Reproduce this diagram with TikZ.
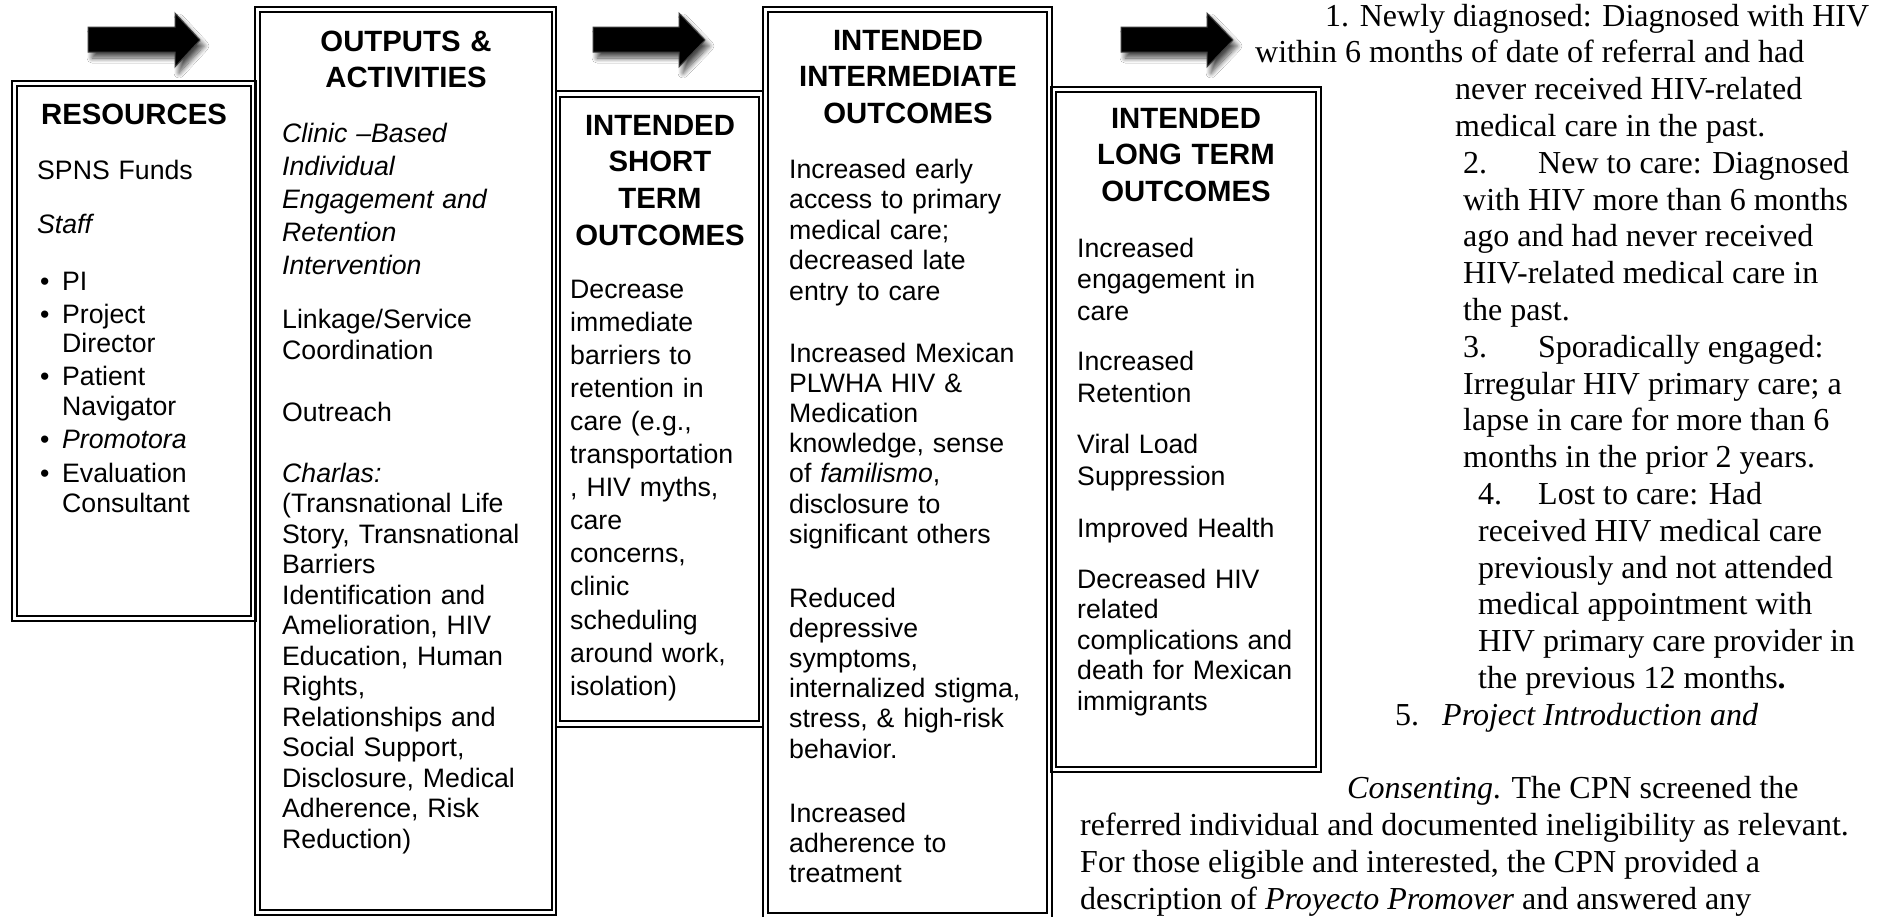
\documentclass[tikz,border=0pt]{standalone}
\usepackage{fontspec}
\setmainfont{Liberation Sans}
\newfontfamily\tnr{Liberation Serif}
\usetikzlibrary{shadows.blur}
\tikzset{
  bline/.style={line width=2pt, draw=black},
  arrowshape/.style={fill=black, draw=black!75, line width=1pt, blur shadow={shadow xshift=4pt, shadow yshift=-6pt, shadow blur radius=5pt, shadow blur steps=10, shadow opacity=70}},
  hd/.style={inner sep=0pt, anchor=base, align=center, font=\fontsize{29.33}{36.7}\selectfont\bfseries},
  bd/.style={inner sep=0pt, anchor=base west, align=left, text width=262pt, font=\fontsize{26.67}{#1}\selectfont},
  bd/.default=30.5,
  tr/.style={inner sep=0pt, anchor=base west, font=\tnr\fontsize{32}{36.8}\selectfont},
}
\begin{document}
\begin{tikzpicture}[x=1pt,y=-1pt]
\useasboundingbox[fill=white] (0,0) rectangle (1880,916);

% ---- double-bordered boxes ----
% Resources
\draw[bline] (12,81) rectangle (256,621);
\draw[bline] (17,86) rectangle (251,616);
% Outputs & activities
\draw[bline] (255,7) rectangle (556,915);
\draw[bline] (260,12) rectangle (552,910);
% Short term
\draw[bline] (556,91) rectangle (763,727);
\draw[bline] (560,97) rectangle (759,721);
% Intermediate
\draw[bline] (763,7) rectangle (1052,919);
\draw[bline] (768,12) rectangle (1047,913);
% Long term
\draw[bline] (1051,87) rectangle (1321,772);
\draw[bline] (1056,92) rectangle (1316,767);

% ---- block arrows ----
\path[arrowshape] (88,27) -- (175,27) -- (175,13) -- (200,40) -- (175,67) -- (175,52) -- (88,52) -- cycle;
\path[arrowshape] (593,27) -- (679,27) -- (679,13) -- (705,40) -- (679,67) -- (679,52) -- (593,52) -- cycle;
\path[arrowshape] (1121,27) -- (1207,27) -- (1207,13) -- (1233,40) -- (1207,67) -- (1207,52) -- (1121,52) -- cycle;

% ---- Resources ----
\node[hd, text width=234pt] (resh) at (134,124) {RESOURCES};
\node[bd, text width=210pt] (res1) at (37,179) {SPNS Funds};
\node[bd, text width=210pt] (res2) at (37,233) {\itshape Staff};
\node[bd, text width=12pt] (bul1) at (40,290) {\textbullet};
\node[bd, text width=12pt] (bul2) at (40,323) {\textbullet};
\node[bd, text width=12pt] (bul3) at (40,385) {\textbullet};
\node[bd, text width=12pt] (bul4) at (40,448) {\textbullet};
\node[bd, text width=12pt] (bul5) at (40,482) {\textbullet};
\node[bd, text width=185pt] (res3) at (62,290) {PI};
\node[bd=29, text width=185pt] (res4) at (62,323) {Project\\Director};
\node[bd=30, text width=185pt] (res5) at (62,385) {Patient\\Navigator};
\node[bd, text width=185pt] (res6) at (62,448) {\itshape Promotora};
\node[bd=30, text width=185pt] (res7) at (62,482) {Evaluation\\Consultant};

% ---- Outputs & Activities ----
\node[hd, text width=290pt] (outh) at (406,51) {OUTPUTS \&\\ACTIVITIES};
\node[bd=33] (out1) at (282,142) {\itshape Clinic –Based\\Individual\\Engagement and\\Retention\\Intervention};
\node[bd=31] (out2) at (282,328) {Linkage/Service\\Coordination};
\node[bd] (out3) at (282,421) {Outreach};
\node[bd=30.5] (out4) at (282,482) {\textit{Charlas:}\\(Transnational Life\\Story, Transnational\\Barriers\\Identification and\\Amelioration, HIV\\Education, Human\\Rights,\\Relationships and\\Social Support,\\Disclosure, Medical\\Adherence, Risk\\Reduction)};

% ---- Short term ----
\node[hd, text width=198pt] (sth) at (660,135) {INTENDED\\SHORT\\TERM\\OUTCOMES};
\node[bd=33.1, text width=185pt] (st1) at (570,298) {Decrease\\immediate\\barriers to\\retention in\\care (e.g.,\\transportation\\, HIV myths,\\care\\concerns,\\clinic\\scheduling\\around work,\\isolation)};

% ---- Intermediate ----
\node[hd, text width=279pt] (imh) at (908,50) {INTENDED\\INTERMEDIATE\\OUTCOMES};
\node[bd=30.5, text width=250pt] (im1) at (789,178) {Increased early\\access to primary\\medical care;\\decreased late\\entry to care};
\node[bd=30.2, text width=250pt] (im2) at (789,362) {Increased Mexican\\PLWHA HIV \&\\Medication\\knowledge, sense\\of \textit{familismo},\\disclosure to\\significant others};
\node[bd=30.2, text width=250pt] (im3) at (789,607) {Reduced\\depressive\\symptoms,\\internalized stigma,\\stress, \& high-risk\\behavior.};
\node[bd=30, text width=250pt] (im4) at (789,822) {Increased\\adherence to\\treatment};

% ---- Long term ----
\node[hd, text width=258pt] (lth) at (1186,128) {INTENDED\\LONG TERM\\OUTCOMES};
\node[bd=31.5, text width=235pt] (lt1) at (1077,257) {Increased\\engagement in\\care};
\node[bd=32, text width=235pt] (lt2) at (1077,370) {Increased\\Retention};
\node[bd=32, text width=235pt] (lt3) at (1077,453) {Viral Load\\Suppression};
\node[bd, text width=235pt] (lt4) at (1077,537) {Improved Health};
\node[bd=30.5, text width=235pt] (lt5) at (1077,588) {Decreased HIV\\related\\complications and\\death for Mexican\\immigrants};

% ---- Times text on the right ----
\node[tr] (r1) at (1325,26) {1. Newly diagnosed: Diagnosed with HIV};
\node[tr] (r2) at (1255,62.8) {within 6 months of date of referral and had};
\node[tr] (r3) at (1455,99.6) {never received HIV-related};
\node[tr] (r4) at (1455,136.4) {medical care in the past.};
\node[tr] (r5) at (1463,173.2) {\makebox[75pt][l]{2.}New to care: Diagnosed};
\node[tr] (r6) at (1463,210) {with HIV more than 6 months};
\node[tr] (r7) at (1463,246.8) {ago and had never received};
\node[tr] (r8) at (1463,283.6) {HIV-related medical care in};
\node[tr] (r9) at (1463,320.4) {the past.};
\node[tr] (r10) at (1463,357.2) {\makebox[75pt][l]{3.}Sporadically engaged:};
\node[tr] (r11) at (1463,394) {Irregular HIV primary care; a};
\node[tr] (r12) at (1463,430.8) {lapse in care for more than 6};
\node[tr] (r13) at (1463,467.6) {months in the prior 2 years.};
\node[tr] (r14) at (1478,504.4) {\makebox[60pt][l]{4.}Lost to care: Had};
\node[tr] (r15) at (1478,541.2) {received HIV medical care};
\node[tr] (r16) at (1478,578) {previously and not attended};
\node[tr] (r17) at (1478,614.8) {medical appointment with};
\node[tr] (r18) at (1478,651.6) {HIV primary care provider in};
\node[tr] (r19) at (1478,688.4) {the previous 12 months\textbf{.}};
\node[tr] (r20) at (1395,725.2) {\makebox[47pt][l]{5.}\textit{Project Introduction and}};
\node[tr] (r21) at (1347,798.8) {\textit{Consenting}. The CPN screened the};
\node[tr] (r22) at (1080,835.6) {referred individual and documented ineligibility as relevant.};
\node[tr] (r23) at (1080,872.4) {For those eligible and interested, the CPN provided a};
\node[tr] (r24) at (1080,909.2) {description of \textit{Proyecto Promover} and answered any};
\end{tikzpicture}
\end{document}
